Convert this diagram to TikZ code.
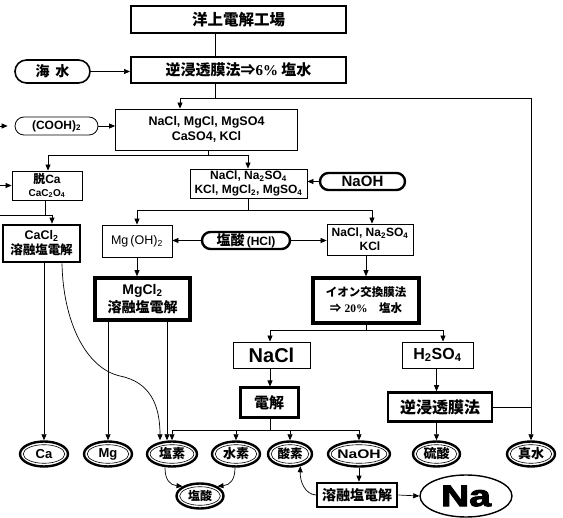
\documentclass[tikz,border=0pt]{standalone}
\usepackage{fontspec}
\setmainfont{Liberation Sans}
\newfontfamily\jp{Noto Sans CJK JP}
\newfontfamily\srf{Liberation Serif}
\newfontfamily\heavy{Liberation Sans Bold}[FakeBold=3]
\usetikzlibrary{arrows.meta,shapes.geometric,shapes.misc,calc}
\newcommand\F[2]{\fontsize{#1}{#2}\selectfont\bfseries}
\newcommand\dellipse[6]{%
  \node[ell, minimum width=#4pt, font=\F{#5}{#5}] (#1) at (#2,#3) {#6};
  \draw[line width=0.6pt] (#1.center) ellipse [x radius=#4*0.5pt-3.2pt, y radius=9.3pt];}
\begin{document}
\begin{tikzpicture}[x=1pt,y=-1pt,
  bx/.style={draw, rectangle, inner sep=0pt, align=center, line width=0.8pt},
  stad/.style={draw, rounded rectangle, inner sep=0pt, align=center},
  ell/.style={draw, ellipse, inner sep=0pt, line width=2.4pt, minimum height=25pt},
  ln/.style={line width=0.7pt},
  arr/.style={line width=0.7pt, -{Triangle[length=6pt,width=5pt]}},
]
\fill[white] (0,0) rectangle (563,518);
\useasboundingbox (0,0) rectangle (563,518);

% boxes
\node[bx, line width=1.6pt, minimum width=215pt, minimum height=27pt, font=\F{15.5}{18}] (top) at (238.5,19.5) {\jp 洋上電解工場};
\node[bx, line width=2pt, minimum width=215pt, minimum height=26pt, font=\F{15}{18}] (rev) at (238.5,70) {\jp 逆浸透膜法⇒{\srf 6\%} 塩水};
\node[stad, line width=1.6pt, minimum width=75pt, minimum height=23pt, font=\F{14}{16}] (sea) at (52.5,71.5) {\jp 海\hspace{0.4em}水};
\node[stad, line width=0.8pt, minimum width=83pt, minimum height=18pt, font=\F{12}{14}] (cooh) at (56.5,126) {(COOH)\textsubscript{2}};
\node[bx, minimum width=182pt, minimum height=41pt, font=\F{12.5}{15}] (mix) at (206.5,129.5) {NaCl, MgCl, MgSO4\\CaSO4, KCl};
\node[bx, minimum width=70pt, minimum height=29pt, font=\F{12}{13}] (deca) at (47,185.5) {{\jp 脱}Ca\\{\fontsize{10}{11}\selectfont CaC\textsubscript{2}O\textsubscript{4}}};
\node[bx, minimum width=117pt, minimum height=29pt, font=\F{12}{14}] (mix2) at (248.5,183.5) {NaCl, Na\textsubscript{2}SO\textsubscript{4}\\KCl, MgCl\textsubscript{2}, MgSO\textsubscript{4}};
\node[stad, line width=2.4pt, minimum width=85pt, minimum height=17pt, font=\F{15}{16}] (naoh) at (362.5,181.5) {NaOH};
\node[bx, line width=2.6pt, minimum width=77pt, minimum height=37pt, font=\F{12.5}{15}] (cacl) at (41.5,243.5) {CaCl\textsubscript{2}\\{\jp 溶融塩電解}};
\node[bx, minimum width=70pt, minimum height=32pt, font=\F{12.5}{14}\mdseries] (mgoh) at (137,241) {Mg\,(OH)\textsubscript{2}};
\node[stad, line width=2.4pt, minimum width=88pt, minimum height=17pt, font=\F{14}{15}] (hcl) at (246,240.5) {{\jp 塩酸}\,{\F{12}{13}(HCl)}};
\node[bx, minimum width=86pt, minimum height=31pt, font=\F{12}{14}] (nacl3) at (370,239.5) {NaCl, Na\textsubscript{2}SO\textsubscript{4}\\KCl};
\node[bx, line width=3.6pt, minimum width=95pt, minimum height=42pt, font=\F{14}{18}] (mgcl) at (142.5,299) {MgCl\textsubscript{2}\\{\jp 溶融塩電解}};
\node[bx, line width=3.6pt, minimum width=106pt, minimum height=45pt, font=\F{11.5}{16}] (ion) at (366,300.5) {{\jp イオン交換膜法}\\{\jp ⇒} {\srf 20\%}\quad{\jp 塩水}};
\node[bx, minimum width=77pt, minimum height=26pt, font=\F{20}{22}] (nacl) at (271.5,355) {NaCl};
\node[bx, minimum width=71pt, minimum height=26pt, font=\F{16}{18}] (hso) at (437.5,355) {H\textsubscript{2}SO\textsubscript{4}};
\node[bx, line width=3pt, minimum width=58pt, minimum height=30pt, font=\F{15}{17}] (elec) at (269,403) {\jp 電解};
\node[bx, line width=2.6pt, minimum width=104pt, minimum height=29pt, font=\F{16}{18}] (rev2) at (440,407) {\jp 逆浸透膜法};
\node[bx, line width=2.6pt, minimum width=80pt, minimum height=24pt, font=\F{14}{16}] (melt) at (357,495) {\jp 溶融塩電解};
\node[draw, ellipse, line width=1.4pt, inner sep=0pt, minimum width=92pt, minimum height=42pt, font=\fontsize{30}{32}\selectfont\heavy] (na) at (466,496) {\scalebox{1.3}[1]{Na}};

% product ellipses
\dellipse{ca}{44}{454}{48}{13}{Ca}
\dellipse{mg}{108}{454}{48}{13}{Mg}
\dellipse{cl}{172}{454}{50}{13}{\jp 塩素}
\dellipse{hy}{236}{454}{48}{13}{\jp 水素}
\dellipse{ox}{290}{454}{44}{12.5}{\jp 酸素}
\dellipse{noh}{359}{454}{62}{12.5}{\scalebox{1.25}[1]{NaOH}}
\dellipse{so}{436.5}{454}{47}{13}{\jp 硫酸}
\dellipse{pw}{531}{454}{48}{13}{\jp 真水}
\dellipse{hcla}{200}{496}{47}{12}{\jp 塩酸}

% junction coordinates
\coordinate (j1) at (215,98);
\coordinate (j1L) at (180,98);
\coordinate (j1R) at (531,98);
\coordinate (inA) at (0,126);
\coordinate (j2) at (208,155);
\coordinate (j2L) at (48,155);
\coordinate (j2R) at (248,155);
\coordinate (inB) at (0,185.5);
\coordinate (j3) at (45,215);
\coordinate (inC) at (0,215);
\coordinate (j3R) at (52,215);
\coordinate (j4) at (248,210);
\coordinate (j4L) at (137,210);
\coordinate (j4R) at (372,210);
\coordinate (j5) at (366,330);
\coordinate (j5L) at (270,330);
\coordinate (j5R) at (443,330);
\coordinate (j6) at (270,430);
\coordinate (k1) at (62,0);
\coordinate (k2) at (160,0);
\coordinate (k3) at (167,0);
\coordinate (k4) at (165,0);
\coordinate (k5) at (235,0);

% connectors
\draw[ln] (top.south -| j1) -- (rev.north -| j1);
\draw[ln] (rev.south -| j1) -- (j1);
\draw[ln] (j1L) -- (j1R);
\draw[arr] (j1L) -- (mix.north -| j1L);
\draw[arr] (j1R) -- (pw.north);
\draw[arr] (sea.east) -- (sea.east -| rev.west);
\draw[arr, shorten >=7pt] (inA) -- (cooh.west);
\draw[arr] (cooh.east) -- (cooh.east -| mix.west);
\draw[ln] (mix.south -| j2) -- (j2);
\draw[ln] (j2L) -- (j2R);
\draw[arr] (j2L) -- (deca.north -| j2L);
\draw[arr] (j2R) -- (mix2.north -| j2R);
\draw[arr] (inB) -- (deca.west);
\draw[ln] (deca.south -| j3) -- (j3);
\draw[ln] (inC) -- (j3R);
\draw[arr] (j3R) -- (cacl.north -| j3R);
\draw[ln] (mix2.south -| j4) -- (j4);
\draw[ln] (j4L) -- (j4R);
\draw[arr] (j4L) -- (mgoh.north -| j4L);
\draw[arr] (j4R) -- (nacl3.north -| j4R);
\draw[arr] (naoh.west) -- (naoh.west -| mix2.east);
\draw[arr] (hcl.west) -- (hcl.west -| mgoh.east);
\draw[arr] (hcl.east) -- (hcl.east -| nacl3.west);
\draw[arr] (mgoh.south) -- (mgoh.south |- mgcl.north);
\draw[arr] (nacl3.south -| ion.north) -- (ion.north);
\draw[ln] (ion.south) -- (j5);
\draw[ln] (j5L) -- (j5R);
\draw[arr] (j5L) -- (nacl.north -| j5L);
\draw[arr] (j5R) -- (hso.north -| j5R);
\draw[arr] (nacl.south -| j5L) -- (elec.north -| j5L);
\draw[arr] (hso.south -| so.north) -- (rev2.north -| so.north);
\draw[arr] (rev2.south -| so.north) -- (so.north);
\draw[ln] (rev2.east) -- (rev2.east -| j1R);
\draw[ln] (elec.south -| j6) -- (j6);
\draw[ln] (cl.north |- j6) -- (noh.north |- j6);
\foreach \e in {cl,hy,ox,noh} \draw[arr] (\e.north |- j6) -- (\e.north);
\draw[arr] (cacl.south -| ca.north) -- (ca.north);
\draw[arr] (cacl.south -| k1) .. controls (63,320) and (85,368) .. (120,376) .. controls (150,382) and (160,405) .. (cl.north -| k2);
\draw[arr] (mgcl.south -| mg.north) -- (mg.north);
\draw[arr] (mgcl.south -| k3) -- (cl.north -| k3);
\draw[arr] (cl.south -| k4) .. controls (165,480) and (170,485) .. (hcla.north west);
\draw[arr] (hy.south -| k5) .. controls (235,480) and (230,485) .. (hcla.north east);
\draw[arr] (noh.south) -- (noh.south |- melt.north);
\draw[arr] (melt.west) .. controls (305,494) and (300,482) .. (ox.-50);
\draw[arr] (melt.east) -- (na.west);
\end{tikzpicture}
\end{document}
